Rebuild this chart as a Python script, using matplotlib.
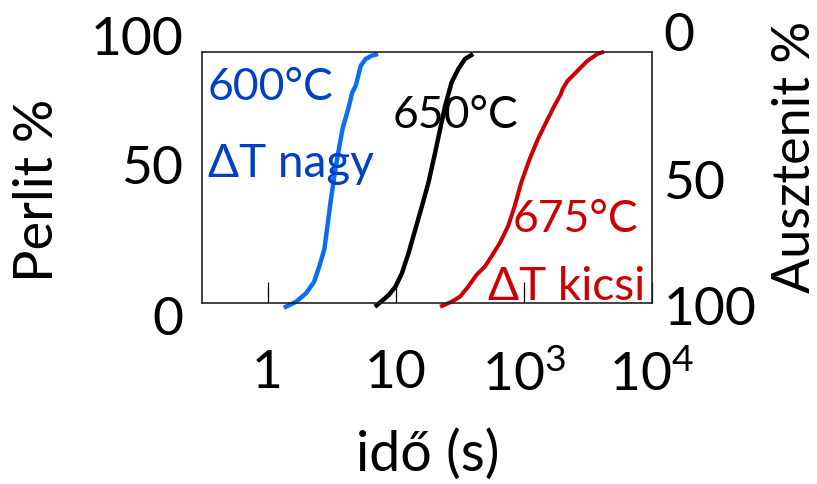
import matplotlib
matplotlib.use("Agg")
import matplotlib.pyplot as plt
import numpy as np

plt.rcParams['font.family'] = ['Lato', 'DejaVu Sans']
plt.rcParams['mathtext.fontset'] = 'custom'
plt.rcParams['mathtext.rm'] = 'Lato'

# ---- data (time in s, perlit %) ----
t_600 = [1.34, 1.67, 2.0, 2.31, 2.53, 2.77, 2.93, 3.12, 3.41, 3.84, 4.32, 4.58, 4.87, 5.10, 5.33, 5.82, 6.48, 7.29]
p_600 = [-1.9, 0.5, 3.9, 8.5, 14.5, 21.2, 30.5, 41.2, 54.5, 69.2, 78.5, 83.9, 86.5, 90.5, 94.5, 97.2, 98.5, 99.2]

t_650 = [6.88, 7.83, 8.83, 9.95, 11.19, 12.6, 14.2, 16.0, 18.0, 20.3, 22.2, 24.3, 27.3, 30.8, 34.7, 40.2]
p_650 = [-1.5, 0.9, 3.2, 6.5, 11.9, 19.9, 29.2, 38.5, 47.9, 59.9, 69.2, 78.5, 87.9, 93.2, 97.2, 99.2]

t_675 = [22.2, 27.3, 31.7, 36.8, 42.7, 49.6, 55.8, 64.9, 75.2, 84.7, 95.3, 110.7, 128.5, 148.9, 172.9, 194.5, 200.5, 219.2, 262.2, 313.4, 374.7, 422.4]
p_675 = [-1.5, 0.5, 2.5, 6.5, 11.2, 14.5, 18.5, 23.9, 30.5, 38.5, 47.9, 57.2, 65.2, 71.9, 78.5, 83.2, 85.2, 88.5, 92.5, 96.5, 99.2, 100.1]

x_ticks = [1, 10, 100, 1000]
x_ticklabels = ['1', '10', r'$\mathregular{10^3}$', r'$\mathregular{10^4}$']
y_ticks = [0, 50, 100]
y_left_labels = ['0', '50', '100']
y_right_labels = ['100', '50', '0']

blue_line = '#0A6EF2'
blue_text = '#0040C8'
red = '#CC0000'

fig = plt.figure(figsize=(8.17, 4.84), dpi=100)
ax = fig.add_axes([202/817, 1-303/484, 450/817, 251/484])

ax.plot(t_600, p_600, color=blue_line, lw=3.2, clip_on=False, solid_capstyle='butt')
ax.plot(t_650, p_650, color='black', lw=3.2, clip_on=False, solid_capstyle='butt')
ax.plot(t_675, p_675, color=red, lw=2.9, clip_on=False, solid_capstyle='butt')

ax.set_xscale('log')
ax.set_xlim(10**-0.5116, 1000)
ax.set_ylim(0, 100)
ax.minorticks_off()
ax.set_xticks(x_ticks)
ax.set_xticklabels(x_ticklabels, fontsize=38.5)
ax.tick_params(axis='x', direction='in', length=15, width=0.9, pad=34, colors='black')
ax.set_yticks([])

for s in ax.spines.values():
    s.set_linewidth(1.2)
    s.set_color('#222222')

# y tick labels (left and right), placed slightly spread as in the original
left_offsets = {0: -6.8, 50: 53.2, 100: 104.4}
right_offsets = {100: -2.8, 50: 47.2, 0: 106.0}
for v, lab in zip(y_ticks, y_left_labels):
    ax.text(-0.042, left_offsets[v], lab, transform=ax.get_yaxis_transform(),
            ha='right', va='center', fontsize=38.5, clip_on=False)
for v, lab in zip(y_ticks, y_right_labels):
    ax.text(1.025, right_offsets[100 - v], lab, transform=ax.get_yaxis_transform(),
            ha='left', va='center', fontsize=38.5, clip_on=False)

fig.text(38/817, 1-190/484, 'Perlit %', rotation=90, ha='center', va='center', fontsize=39)
fig.text(795/817, 1-157/484, 'Ausztenit %', rotation=90, ha='center', va='center', fontsize=37.5)
fig.text(428/817, 1-455/484, 'idő (s)', ha='center', va='center', fontsize=40)

# annotations
fig.text(208/817, 1-100/484, '600°C', color=blue_text, fontsize=32, ha='left', va='baseline')
fig.text(208/817, 1-177/484, 'ΔT nagy', color=blue_text, fontsize=33, ha='left', va='baseline')
fig.text(393/817, 1-128/484, '650°C', color='black', fontsize=32, ha='left', va='baseline')
fig.text(513/817, 1-232/484, '675°C', color=red, fontsize=32, ha='left', va='baseline')
fig.text(488/817, 1-300/484, 'ΔT kicsi', color=red, fontsize=33, ha='left', va='baseline')

fig.savefig('out.png', dpi=100)
